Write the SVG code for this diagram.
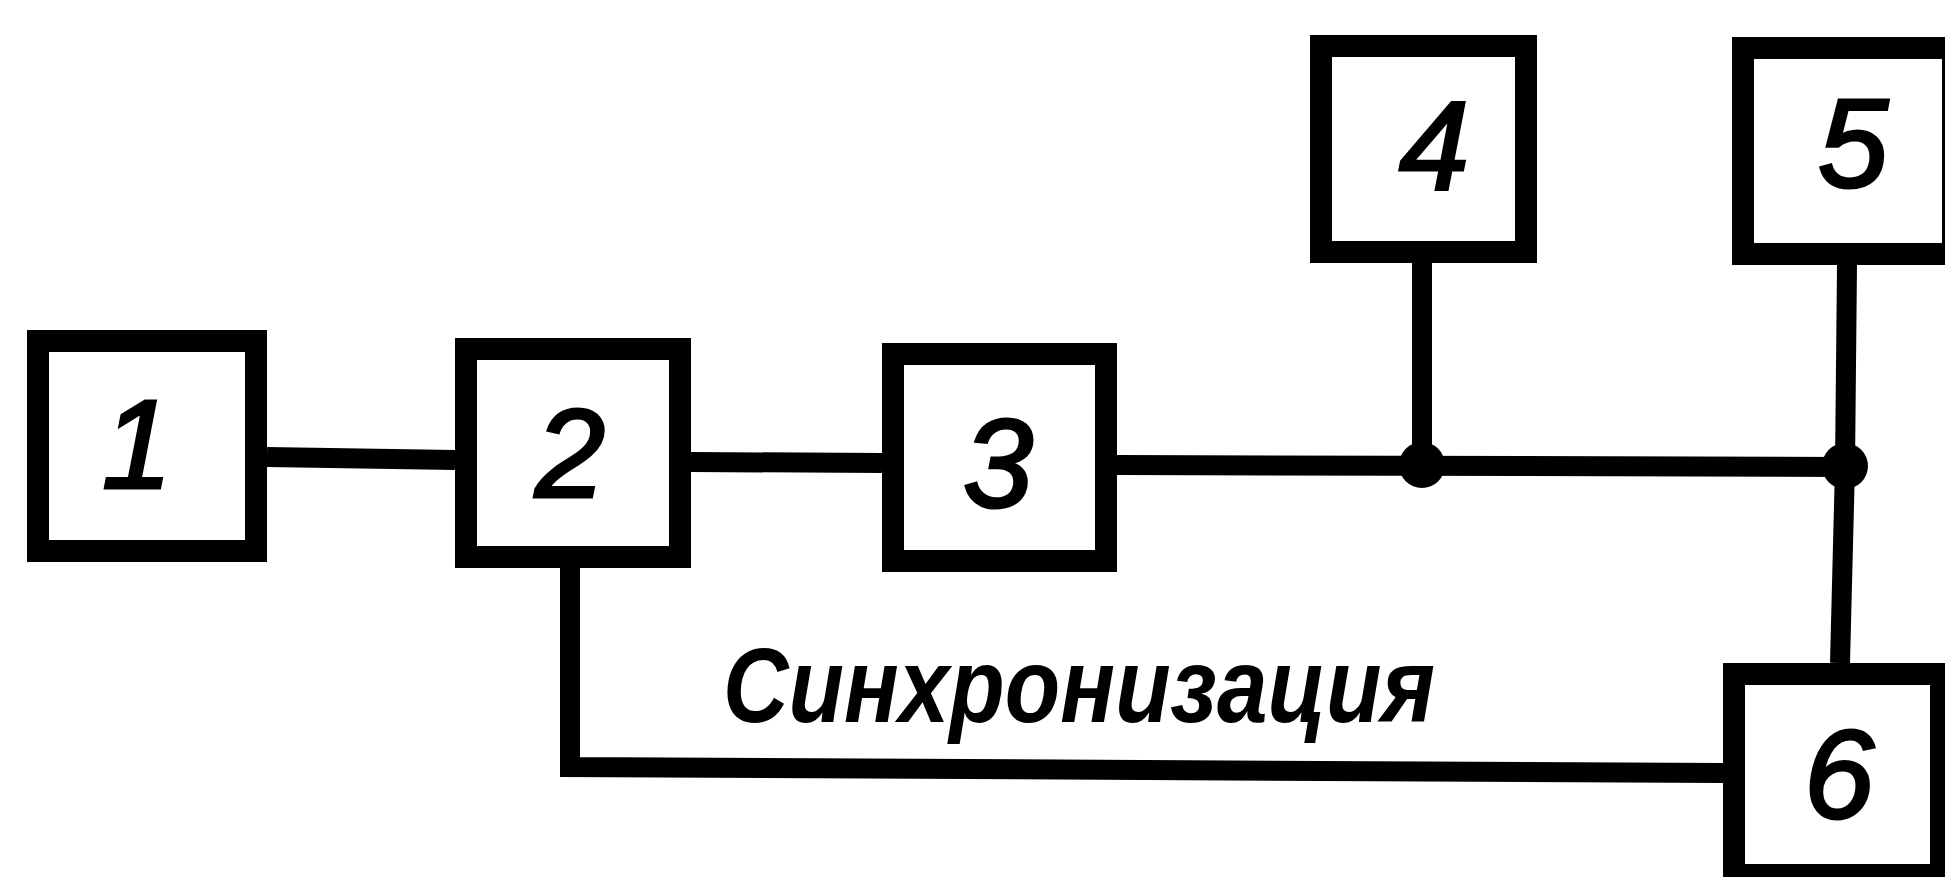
<svg xmlns="http://www.w3.org/2000/svg" width="1945" height="877" viewBox="0 0 1945 877">
<style>
.box{fill:#fff;stroke:#000;stroke-width:22}
.wire{fill:none;stroke:#000;stroke-width:20;stroke-linejoin:miter}
.num{font-family:"Liberation Sans",Arial,sans-serif;font-style:italic;font-weight:normal;font-size:126px;fill:#000;stroke:#000;stroke-width:3;text-anchor:middle}
.lbl{font-family:"Liberation Sans",Arial,sans-serif;font-style:italic;font-weight:bold;font-size:106px;fill:#000}
</style>
<rect width="1945" height="877" fill="#fff"/>
<g id="connectors">
<path class="wire" d="M267,457 L455,460"/>
<path class="wire" d="M691,462 L882,463"/>
<path class="wire" d="M1117,465 L1845,467"/>
<path class="wire" d="M1422,263 L1422,465"/>
<path class="wire" d="M1847,265 L1845,466 L1840,663"/>
<path class="wire" d="M570,568 L570,767 L1723,773"/>
<circle cx="1422" cy="465" r="23" fill="#000"/>
<circle cx="1845" cy="466" r="23" fill="#000"/>
</g>
<g id="node1"><rect class="box" x="38" y="341" width="218" height="210"/><text class="num" x="137" y="488">1</text></g>
<g id="node2"><rect class="box" x="466" y="349" width="214" height="208"/><text class="num" x="570" y="497">2</text></g>
<g id="node3"><rect class="box" x="893" y="354" width="213" height="207"/><text class="num" x="998" y="507">3</text></g>
<g id="node4"><rect class="box" x="1321" y="46" width="205" height="206"/><text class="num" x="1434" y="190">4</text></g>
<g id="node5"><rect class="box" x="1743" y="48" width="210" height="206"/><text class="num" x="1853" y="187">5</text></g>
<g id="node6"><rect class="box" x="1734" y="674" width="207" height="201"/><text class="num" x="1839" y="818">6</text></g>
<g id="label"><text class="lbl" x="723" y="722" textLength="712" lengthAdjust="spacingAndGlyphs">Синхронизация</text></g>
</svg>
